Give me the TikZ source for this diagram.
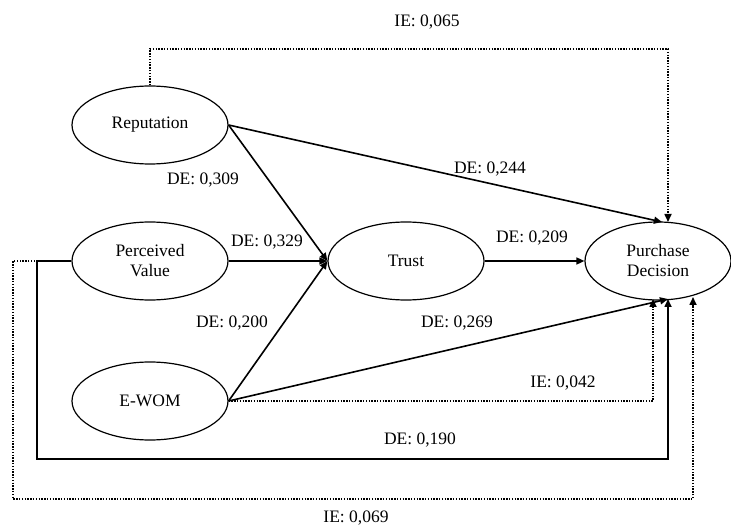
\documentclass[tikz,border=0pt]{standalone}
\usepackage{fontspec}
\setmainfont{Liberation Serif}
\usetikzlibrary{shapes.geometric,arrows.meta}
\begin{document}
\begin{tikzpicture}[x=1pt,y=-1pt,
  every node/.style={font=\fontsize{17.5}{20}\selectfont},
  latent/.style={draw, ellipse, line width=1.2pt, minimum width=156pt, minimum height=78pt, inner sep=0pt, align=center},
  dpath/.style={line width=1.6pt, -{Triangle[length=8pt,width=7pt]}},
  ipath/.style={line width=1.6pt, dash pattern=on 1.4pt off 1.4pt, -{Triangle[length=8pt,width=7pt]}},
  lbl/.style={inner sep=0pt}]
\useasboundingbox (0,0) rectangle (731,526);
\node[latent] (rep) at (150,125) {Reputation};
\node[latent] (pv) at (150,261) {Perceived\\Value};
\node[latent] (ewom) at (150,401) {E-WOM};
\node[latent] (trust) at (406,261) {Trust};
\node[latent, minimum width=146pt] (pd) at (658,261) {Purchase\\Decision};
% coordinates
\coordinate (c1) at (150,49);
\coordinate (c2) at (668,49);
\coordinate (pdt1) at (662,222);
\coordinate (pdt2) at (668,222);
\coordinate (pdb1) at (653,299);
\coordinate (pdb2) at (668,299);
\coordinate (pdb3) at (693,297);
\coordinate (l2) at (37,459);
\coordinate (l3) at (13,499);
% connectors
\draw[ipath] (rep.north) -- (c1) -- (c2) -- (pdt2);
\draw[dpath] (rep.east) -- (pdt1);
\draw[dpath] (rep.east) -- (trust.west);
\draw[dpath] (pv.east) -- (trust.west);
\draw[dpath] (ewom.east) -- (trust.west);
\draw[dpath] (trust.east) -- (pd.west);
\draw[dpath] (ewom.east) -- (pdb2);
\draw[ipath] (ewom.east) -- (pdb1 |- ewom.east) -- (pdb1);
\draw[dpath] (pv.west) -| (l2) -| (pdb2);
\draw[ipath] (pv.west) -| (l3) -| (pdb3);
% labels
\node[lbl] (t1) at (427,22) {IE: 0,065};
\node[lbl] (t2) at (490,169) {DE: 0,244};
\node[lbl] (t3) at (203,180) {DE: 0,309};
\node[lbl] (t4) at (267,242) {DE: 0,329};
\node[lbl] (t5) at (532,238) {DE: 0,209};
\node[lbl] (t6) at (232,323) {DE: 0,200};
\node[lbl] (t7) at (457,323) {DE: 0,269};
\node[lbl] (t8) at (563,383) {IE: 0,042};
\node[lbl] (t9) at (420,440) {DE: 0,190};
\node[lbl] (t10) at (356,518) {IE: 0,069};
\end{tikzpicture}
\end{document}
